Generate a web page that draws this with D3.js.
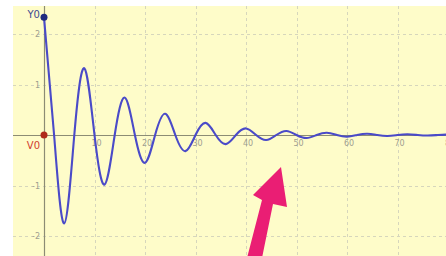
<!DOCTYPE html>
<html><head><meta charset="utf-8">
<script src="https://cdn.jsdelivr.net/npm/d3@7"></script>
<style>body{margin:0;background:#fff}svg{display:block}</style>
</head><body><svg id="c" width="446" height="256"></svg>
<script>
// Values: time (x) and displacement (y) at extrema and zero crossings
const curveT = [0, 2, 4, 6, 8, 10, 12, 14, 16, 18, 20, 22, 24, 26, 28, 30, 32, 34, 36, 38, 40, 42, 44, 46, 48, 50, 52, 54, 56, 58, 60, 62, 64, 66, 68, 70, 72, 74, 76, 78, 80, 82];
const curveY = [2.33, 0, -1.75, 0, 1.32, 0, -0.98, 0, 0.74, 0, -0.55, 0, 0.42, 0, -0.32, 0, 0.24, 0, -0.18, 0, 0.13, 0, -0.10, 0, 0.08, 0, -0.06, 0, 0.045, 0, -0.034, 0, 0.026, 0, -0.02, 0, 0.015, 0, -0.011, 0, 0.008, 0];
const xTicks = [10, 20, 30, 40, 50, 60, 70, 80];
const yTicks = [-2, -1, 1, 2];
const yTickLabels = ["-2", "-1", "1", "2"];
const Y0 = 2.33, V0 = 0;

const svg = d3.select("#c");
const x = d3.scaleLinear().domain([0, 80]).range([44, 448]);
const y = d3.scaleLinear().domain([0, 2]).range([135, 34]);

svg.append("rect").attr("x", 13).attr("y", 6).attr("width", 440).attr("height", 260).attr("fill", "#fefcc9");

const grid = svg.append("g").attr("stroke", "#d6d6bc").attr("stroke-width", 1).attr("stroke-dasharray", "3,3");
grid.selectAll("line.v").data(xTicks).join("line")
  .attr("x1", d => Math.round(x(d)) + 0.5).attr("x2", d => Math.round(x(d)) + 0.5)
  .attr("y1", 6).attr("y2", 256);
grid.selectAll("line.h").data(yTicks).join("line")
  .attr("y1", d => Math.round(y(d)) + 0.5).attr("y2", d => Math.round(y(d)) + 0.5)
  .attr("x1", 13).attr("x2", 446);

// axes
svg.append("line").attr("x1", 13).attr("x2", 446).attr("y1", y(0) + 0.5).attr("y2", y(0) + 0.5)
  .attr("stroke", "#8c8c74").attr("stroke-width", 1.2);
svg.append("line").attr("x1", x(0) + 0.5).attr("x2", x(0) + 0.5).attr("y1", 6).attr("y2", 256)
  .attr("stroke", "#8c8c74").attr("stroke-width", 1.2);

const lab = svg.append("g").attr("font-family", "DejaVu Sans, sans-serif").attr("font-size", 8).attr("fill", "#a0a090");
lab.selectAll("text.x").data(xTicks).join("text")
  .attr("x", d => x(d) + 2).attr("y", y(0) + 11).attr("text-anchor", "middle").text(d => d);
lab.selectAll("text.y").data(yTicks).join("text")
  .attr("x", 40).attr("y", d => y(d) + 3).attr("text-anchor", "end").text((d, i) => yTickLabels[i]);

// curve
const pts = curveT.map((t, i) => [t, curveY[i]]);
svg.append("path").datum(pts)
  .attr("d", d3.line().x(d => x(d[0])).y(d => y(d[1])).curve(d3.curveNatural))
  .attr("fill", "none").attr("stroke", "#4a4ac8").attr("stroke-width", 2.1);

// initial points
svg.append("circle").attr("cx", x(0)).attr("cy", y(Y0)).attr("r", 3.5).attr("fill", "#1f2a80");
svg.append("circle").attr("cx", x(0)).attr("cy", y(V0)).attr("r", 3.5).attr("fill", "#b02a1a");
svg.append("text").attr("x", 40).attr("y", 18).attr("text-anchor", "end")
  .attr("font-family", "DejaVu Sans, sans-serif").attr("font-size", 10).attr("fill", "#3c4a90").text("Y0");
svg.append("text").attr("x", 40).attr("y", 149).attr("text-anchor", "end")
  .attr("font-family", "DejaVu Sans, sans-serif").attr("font-size", 10).attr("fill", "#d04030").text("V0");

// pink arrow annotation
svg.append("path")
  .attr("d", "M281,167 L287,207 L273,204 L262,258 L247,258 L262,200 L253,195 Z")
  .attr("fill", "#ea1e74");
</script></body></html>
